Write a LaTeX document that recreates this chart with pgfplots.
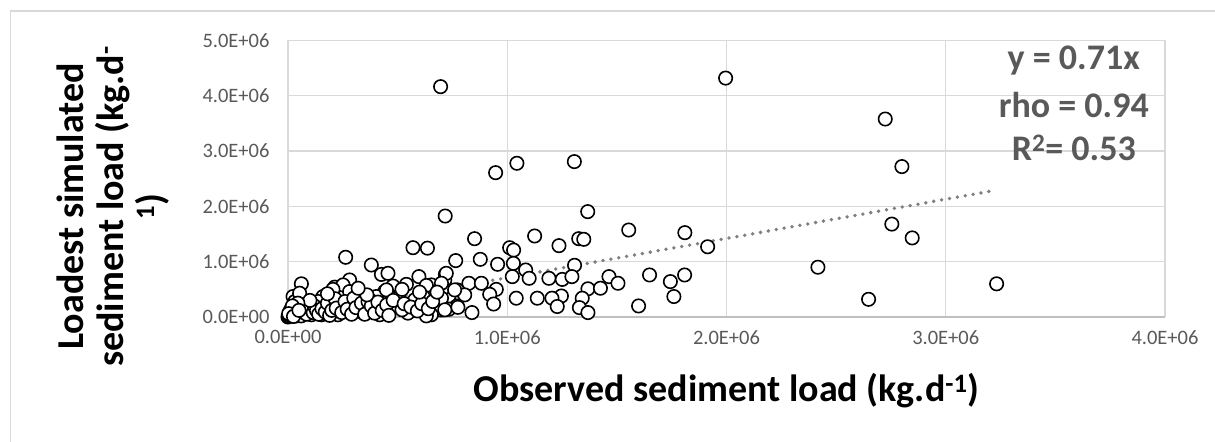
\documentclass[border=0pt]{standalone}
\usepackage{fontspec}
\setmainfont{Carlito}
\usepackage{pgfplots}
\pgfplotsset{compat=1.18}
\definecolor{txt}{HTML}{595959}
\definecolor{grd}{HTML}{D9D9D9}
\definecolor{axl}{HTML}{BFBFBF}
\definecolor{trend}{HTML}{7F7F7F}

% observed vs simulated load (kg/d)
\pgfplotstableread{
x y
0.696e6 4.165e6
1.996e6 4.32e6
2.724e6 3.58e6
2.800e6 2.72e6
2.754e6 1.68e6
2.847e6 1.43e6
2.417e6 0.90e6
2.648e6 0.32e6
3.232e6 0.60e6
0.947e6 2.61e6
1.044e6 2.78e6
1.306e6 2.81e6
0.717e6 1.826e6
1.367e6 1.905e6
1.914e6 1.27e6
1.554e6 1.573e6
1.810e6 1.525e6
0.851e6 1.416e6
1.125e6 1.465e6
1.326e6 1.416e6
1.349e6 1.405e6
1.011e6 1.253e6
1.029e6 1.21e6
1.236e6 1.29e6
0.570e6 1.253e6
0.636e6 1.245e6
0.765e6 1.02e6
0.877e6 1.043e6
0.956e6 0.953e6
1.028e6 0.97e6
1.307e6 0.935e6
1.084e6 0.85e6
0.718e6 0.77e6
0.715e6 0.67e6
1.023e6 0.73e6
1.100e6 0.70e6
1.190e6 0.70e6
1.251e6 0.68e6
1.295e6 0.73e6
1.464e6 0.73e6
1.505e6 0.61e6
1.649e6 0.76e6
1.744e6 0.64e6
1.809e6 0.76e6
1.760e6 0.37e6
1.599e6 0.20e6
1.368e6 0.51e6
1.425e6 0.52e6
1.342e6 0.34e6
1.329e6 0.17e6
1.368e6 0.08e6
1.247e6 0.38e6
1.204e6 0.34e6
1.228e6 0.19e6
1.137e6 0.34e6
1.041e6 0.34e6
0.825e6 0.61e6
0.882e6 0.61e6
0.950e6 0.50e6
0.920e6 0.41e6
0.938e6 0.235e6
0.839e6 0.08e6
0.772e6 0.49e6
0.734e6 0.38e6
0.771e6 0.20e6
0.734e6 0.14e6
0.700e6 0.127e6
0.654e6 0.04e6
0.689e6 0.34e6
0.654e6 0.58e6
0.707e6 0.52e6
0.806e6 0.40e6
0.760e6 0.49e6
0.775e6 0.175e6
0.263e6 1.08e6
0.380e6 0.94e6
0.061e6 0.60e6
0.281e6 0.67e6
0.426e6 0.77e6
0.456e6 0.79e6
0.597e6 0.73e6
0.722e6 0.79e6
0.479e6 0.56e6
0.540e6 0.59e6
0.631e6 0.57e6
0.213e6 0.54e6
0.251e6 0.58e6
0.205e6 0.50e6
0.160e6 0.37e6
0.137e6 0.28e6
0.023e6 0.37e6
0.031e6 0.28e6
0.053e6 0.43e6
0.236e6 0.22e6
0.296e6 0.22e6
0.327e6 0.10e6
0.358e6 0.16e6
0.228e6 0.04e6
0.152e6 0.04e6
0.107e6 0.04e6
0.000e6 0.00e6
0.038e6 0.02e6
0.024e6 0.13e6
0.076e6 0.13e6
0.281e6 0.46e6
0.441e6 0.46e6
0.403e6 0.37e6
0.373e6 0.31e6
0.502e6 0.37e6
0.578e6 0.31e6
0.616e6 0.37e6
0.700e6 0.34e6
0.471e6 0.175e6
0.388e6 0.14e6
0.547e6 0.07e6
0.631e6 0.02e6
0.342e6 0.10e6
0.715e6 0.13e6
0.418e6 0.04e6
0.449e6 0.49e6
0.502e6 0.34e6
0.700e6 0.61e6
0.005e6 0.01e6
0.010e6 0.03e6
0.012e6 0.06e6
0.008e6 0.10e6
0.020e6 0.05e6
0.030e6 0.08e6
0.015e6 0.15e6
0.040e6 0.18e6
0.050e6 0.05e6
0.060e6 0.02e6
0.065e6 0.09e6
0.070e6 0.22e6
0.090e6 0.12e6
0.085e6 0.05e6
0.100e6 0.16e6
0.115e6 0.08e6
0.120e6 0.20e6
0.130e6 0.12e6
0.140e6 0.05e6
0.155e6 0.15e6
0.170e6 0.09e6
0.180e6 0.25e6
0.190e6 0.03e6
0.200e6 0.12e6
0.215e6 0.33e6
0.220e6 0.16e6
0.245e6 0.08e6
0.260e6 0.28e6
0.270e6 0.14e6
0.290e6 0.05e6
0.300e6 0.34e6
0.310e6 0.17e6
0.335e6 0.25e6
0.350e6 0.05e6
0.365e6 0.28e6
0.380e6 0.20e6
0.395e6 0.07e6
0.410e6 0.27e6
0.430e6 0.12e6
0.450e6 0.22e6
0.460e6 0.03e6
0.480e6 0.30e6
0.520e6 0.13e6
0.530e6 0.24e6
0.560e6 0.18e6
0.590e6 0.11e6
0.610e6 0.24e6
0.640e6 0.15e6
0.660e6 0.28e6
0.680e6 0.45e6
0.600e6 0.45e6
0.520e6 0.50e6
0.360e6 0.40e6
0.320e6 0.52e6
0.180e6 0.42e6
0.100e6 0.30e6
0.045e6 0.25e6
0.020e6 0.20e6
0.003e6 0.06e6
0.025e6 0.01e6
0.050e6 0.12e6
}\loaddata

\pgfplotstableread{
x y
0 0
3.232e6 2.295e6
}\trenddata

\begin{document}
\begin{tikzpicture}
\path[use as bounding box] (0,0) rectangle (1215bp,442bp);
\draw[grd, line width=1.2bp] (10.5bp,0) -- (10.5bp,431bp) -- (1215bp,431bp);
\begin{axis}[
    at={(288bp,125bp)}, anchor=south west,
    scale only axis, width=877bp, height=276.5bp,
    xmin=0, xmax=4e6, ymin=0, ymax=5e6,
    xtick={0,1e6,2e6,3e6,4e6},
    xticklabels={0.0E+00,1.0E+06,2.0E+06,3.0E+06,4.0E+06},
    ytick={0,1e6,2e6,3e6,4e6,5e6},
    yticklabels={0.0E+00,1.0E+06,2.0E+06,3.0E+06,4.0E+06,5.0E+06},
    scaled ticks=false,
    axis x line*=bottom, axis y line*=left,
    x axis line style={axl, line width=1.2bp, -},
    y axis line style={grd, line width=1.2bp, -},
    major tick length=0pt,
    grid=major, major grid style={grd, line width=1.2bp},
    ticklabel style={font=\fontsize{20.5bp}{24bp}\selectfont, text=txt},
    xticklabel style={yshift=-10bp},
    yticklabel style={xshift=-15bp},
    xlabel={Observed sediment load (kg.d\textsuperscript{-1})},
    xlabel style={at={(axis description cs:0.5,-0.265)}, anchor=center,
        font=\bfseries\fontsize{38bp}{40bp}\selectfont},
    ylabel={Loadest simulated\\sediment load (kg.d\textsuperscript{-}\\\textsuperscript{1})},
    ylabel style={at={(axis description cs:-0.2,0.40)}, anchor=center,
        align=center, font=\bfseries\fontsize{38bp}{40bp}\selectfont},
    clip=false,
]
\addplot[only marks, mark=*, mark size=6.7bp,
    mark options={fill=white, draw=black, line width=1.6bp}] table {\loaddata};
\addplot[trend, line width=3.8bp, line cap=round, dash pattern=on 0bp off 8bp] table {\trenddata};
\node[text=txt, font=\bfseries\fontsize{36bp}{38bp}\selectfont] at (rel axis cs:0.896,0.929) {y = 0.71x};
\node[text=txt, font=\bfseries\fontsize{36bp}{38bp}\selectfont] at (rel axis cs:0.896,0.767) {rho = 0.94};
\node[text=txt, font=\bfseries\fontsize{36bp}{38bp}\selectfont] at (rel axis cs:0.896,0.611) {R\textsuperscript{2}= 0.53};
\end{axis}
\end{tikzpicture}
\end{document}
